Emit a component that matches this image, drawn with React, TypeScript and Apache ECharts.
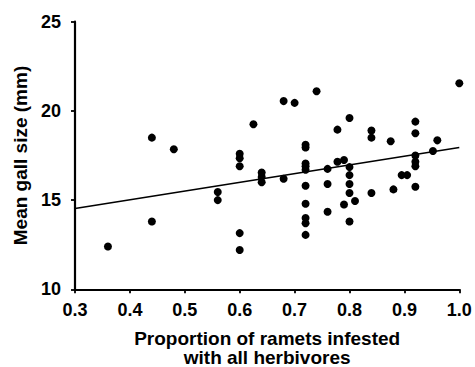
import React, { useEffect, useRef } from "react";
import * as echarts from "echarts";

const xValues: number[] = [
  0.36,
  0.44, 0.44,
  0.48,
  0.56, 0.56,
  0.6, 0.6, 0.6, 0.6, 0.6,
  0.625,
  0.64, 0.64, 0.64,
  0.68, 0.68,
  0.7,
  0.72, 0.72, 0.72, 0.72, 0.72, 0.72, 0.72, 0.72, 0.72, 0.72,
  0.74,
  0.76, 0.76, 0.76,
  0.778, 0.778,
  0.79, 0.79,
  0.8, 0.8, 0.8, 0.8, 0.8, 0.8,
  0.81,
  0.84, 0.84, 0.84,
  0.875,
  0.88,
  0.895,
  0.905,
  0.92, 0.92, 0.92, 0.92, 0.92, 0.92,
  0.952,
  0.96,
  1.0,
];

const yValues: number[] = [
  12.4,
  13.8, 18.5,
  17.85,
  15.45, 15.0,
  17.6, 17.35, 16.9, 13.15, 12.2,
  19.25,
  16.55, 16.3, 16.0,
  20.55, 16.2,
  20.45,
  18.1, 17.95, 17.05, 16.9, 16.7, 15.8, 14.8, 14.0, 13.7, 13.05,
  21.1,
  16.75, 15.9, 14.35,
  18.95, 17.15,
  17.25, 14.75,
  19.6, 16.85, 16.4, 15.9, 15.4, 13.8,
  14.95,
  18.9, 18.5, 15.4,
  18.3,
  15.6,
  16.4,
  16.4,
  19.4, 18.75, 17.5, 17.15, 16.9, 15.75,
  17.75,
  18.35,
  21.55,
];

// Regression line: y = intercept + slope * x
const regIntercept = 13.06;
const regSlope = 4.89;
const regXRange: number[] = [0.3, 1.0];

const xTicks = { min: 0.3, max: 1.0, interval: 0.1 };
const yTicks = { min: 10, max: 25, interval: 5 };

const xTitle = "Proportion of ramets infested\nwith all herbivores";
const yTitle = "Mean gall size (mm)";

export default function App() {
  const ref = useRef<HTMLDivElement>(null);

  useEffect(() => {
    document.body.style.margin = "0";
    if (!ref.current) return;
    const chart = echarts.init(ref.current, null, { renderer: "svg" });
    const font = "Arial, 'Liberation Sans', sans-serif";
    const points = xValues.map((x, i) => [x, yValues[i]]);
    const line = regXRange.map((x) => [x, regIntercept + regSlope * x]);

    chart.setOption({
      animation: false,
      backgroundColor: "#ffffff",
      grid: {
        left: 75,
        right: 15.7,
        top: 21.7,
        bottom: 77.7,
        containLabel: false,
        outerBoundsMode: "none",
      },
      xAxis: {
        type: "value",
        min: xTicks.min,
        max: xTicks.max,
        interval: xTicks.interval,
        name: xTitle,
        nameLocation: "middle",
        nameGap: 39.5,
        nameTextStyle: {
          fontFamily: font,
          fontWeight: "bold",
          fontSize: 19,
          color: "#000",
          lineHeight: 19,
        },
        axisLine: { show: true, onZero: false, lineStyle: { color: "#000", width: 2.2 } },
        axisTick: { show: true, inside: false, length: 4, lineStyle: { color: "#000", width: 1.8 } },
        splitLine: { show: false },
        axisLabel: {
          margin: 12,
          fontFamily: font,
          fontWeight: "bold",
          fontSize: 18,
          color: "#000",
          formatter: (v: number) => v.toFixed(1),
        },
      },
      yAxis: {
        type: "value",
        min: yTicks.min,
        max: yTicks.max,
        interval: yTicks.interval,
        name: yTitle,
        nameLocation: "middle",
        nameGap: 45,
        nameTextStyle: {
          fontFamily: font,
          fontWeight: "bold",
          fontSize: 19,
          color: "#000",
        },
        axisLine: { show: true, onZero: false, lineStyle: { color: "#000", width: 2.2 } },
        axisTick: { show: true, inside: false, length: 4, lineStyle: { color: "#000", width: 1.8 } },
        splitLine: { show: false },
        axisLabel: {
          margin: 14,
          fontFamily: font,
          fontWeight: "bold",
          fontSize: 18,
          color: "#000",
        },
      },
      series: [
        {
          type: "line",
          data: line,
          symbol: "none",
          lineStyle: { color: "#000", width: 1.6 },
          z: 2,
        },
        {
          type: "scatter",
          data: points,
          symbol: "circle",
          symbolSize: 8,
          itemStyle: { color: "#000", opacity: 1 },
          z: 3,
        },
      ],
    });

    return () => chart.dispose();
  }, []);

  return (
    <div
      ref={ref}
      style={{ position: "absolute", left: 0, top: 0, width: 475, height: 367 }}
    />
  );
}
